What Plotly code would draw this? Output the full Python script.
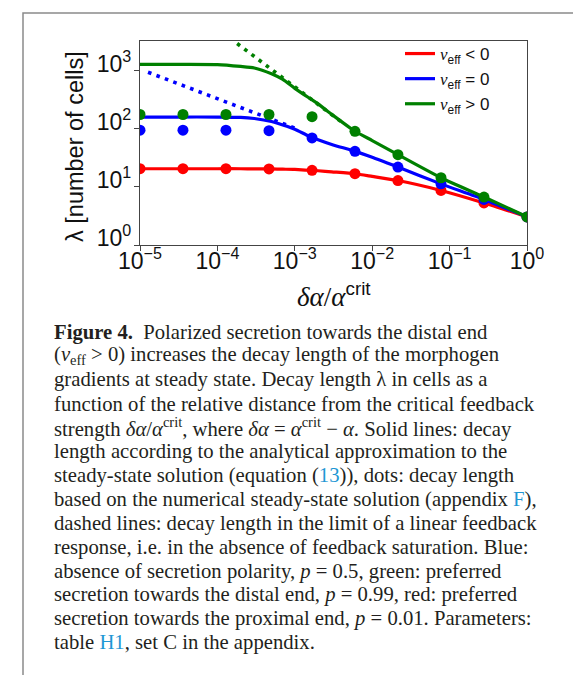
import plotly.graph_objects as go

# ---------------- data ----------------
x_dots = [1e-5, 3.59e-5, 1.29e-4, 4.64e-4, 1.67e-3, 5.99e-3, 2.15e-2, 7.74e-2, 2.78e-1, 1.0]
red_dots = [20.6, 20.6, 20.6, 20.4, 19.3, 16.9, 12.9, 8.7, 5.3, 3.05]
blue_dots = [95, 95, 95, 93, 70, 41, 22, 11.3, 6.1, 3.05]
green_dots = [177, 177, 177, 177, 162, 91, 36, 14.4, 6.7, 3.05]

x_line = [1e-5, 3e-5, 1e-4, 2e-4, 3e-4, 5e-4, 7e-4, 1e-3, 1.5e-3, 2e-3, 3e-3,
          6e-3, 1e-2, 2.15e-2, 7.74e-2, 2.78e-1, 1.0]
red_line = [20.6, 20.6, 20.6, 20.6, 20.5, 20.4, 20.2, 20.0, 19.4, 19.0, 18.2,
            16.9, 15.2, 12.9, 8.7, 5.3, 3.05]
blue_line = [160, 160, 160, 158, 151, 134, 117, 99, 76, 65, 54,
             41, 32.5, 22, 11.3, 6.1, 3.05]
green_line = [1290, 1290, 1280, 1190, 1120, 890, 710, 500, 347, 270, 178,
              91, 63, 36, 14.4, 6.7, 3.05]

x_blue_lin = [1.27e-5, 1e-4, 3e-4, 1e-3]
blue_lin = [946, 337, 194, 103]
x_green_lin = [1.8e-4, 5e-4, 1e-3, 2e-3, 4e-3]
green_lin = [2950, 1060, 530, 265, 132]

x_tickvals = [1e-5, 1e-4, 1e-3, 1e-2, 1e-1, 1]
x_ticktext = ["10<sup>−5</sup>", "10<sup>−4</sup>", "10<sup>−3</sup>",
              "10<sup>−2</sup>", "10<sup>−1</sup>", "10<sup>0</sup>"]
y_tickvals = [1, 10, 100, 1000]
y_ticktext = ["10<sup>0</sup>", "10<sup>1</sup>", "10<sup>2</sup>", "10<sup>3</sup>"]

legend_names = [
    "<span style=\"font-family:'Liberation Serif'\"><i>v</i></span><sub>eff</sub> &lt; 0",
    "<span style=\"font-family:'Liberation Serif'\"><i>v</i></span><sub>eff</sub> = 0",
    "<span style=\"font-family:'Liberation Serif'\"><i>v</i></span><sub>eff</sub> &gt; 0",
]

LINK = "#1f97d4"
caption_lines = [
    "<b>Figure 4.</b>  Polarized secretion towards the distal end",
    "(<i>v</i><sub>eff</sub> &gt; 0) increases the decay length of the morphogen",
    "gradients at steady state. Decay length λ in cells as a",
    "function of the relative distance from the critical feedback",
    "strength <i>δα</i>/<i>α</i><sup>crit</sup>, where <i>δα</i> = <i>α</i><sup>crit</sup> − <i>α</i>. Solid lines: decay",
    "length according to the analytical approximation to the",
    f"steady-state solution (equation (<span style='color:{LINK}'>13</span>)), dots: decay length",
    f"based on the numerical steady-state solution (appendix <span style='color:{LINK}'>F</span>),",
    "dashed lines: decay length in the limit of a linear feedback",
    "response, i.e. in the absence of feedback saturation. Blue:",
    "absence of secretion polarity, <i>p</i> = 0.5, green: preferred",
    "secretion towards the distal end, <i>p</i> = 0.99, red: preferred",
    "secretion towards the proximal end, <i>p</i> = 0.01. Parameters:",
    f"table <span style='color:{LINK}'>H1</span>, set C in the appendix.",
]

RED, BLUE, GREEN = "#ff0000", "#0000ff", "#008000"

# ---------------- figure ----------------
W, H = 581, 675
L, R, T, B = 132, 62, 33, 438
pw, ph = W - L - R, H - T - B


def px2paper_x(px):
    return (px - L) / pw


def px2paper_y(py):
    return (H - B - py) / ph


fig = go.Figure()

series = [
    (RED, red_line, red_dots, None, None, legend_names[0]),
    (BLUE, blue_line, blue_dots, x_blue_lin, blue_lin, legend_names[1]),
    (GREEN, green_line, green_dots, x_green_lin, green_lin, legend_names[2]),
]

for color, yl, yd, xlin, ylin, name in series:
    if xlin is not None:
        fig.add_trace(go.Scatter(x=xlin, y=ylin, mode="lines", showlegend=False,
                                 line=dict(color=color, width=3.6, dash="3.6px,5.4px"),
                                 hoverinfo="skip"))
    fig.add_trace(go.Scatter(x=x_line, y=yl, mode="lines", name=name,
                             line=dict(color=color, width=3.2, shape="spline", smoothing=0.6)))
    fig.add_trace(go.Scatter(x=x_dots, y=yd, mode="markers", showlegend=False,
                             marker=dict(color=color, size=11, line=dict(width=0))))

axis_common = dict(
    showgrid=False, zeroline=False, showline=True, mirror=True,
    linecolor="#444444", linewidth=1.3, ticks="outside", ticklen=5,
    tickwidth=1.2, tickcolor="#444444",
    tickfont=dict(family="Liberation Sans", size=23, color="#111111"),
)

fig.update_xaxes(type="log", range=[-5, 0], tickvals=x_tickvals, ticktext=x_ticktext,
                 ticklabelstandoff=-10, **axis_common)
fig.update_yaxes(type="log", range=[0, 3.514], tickvals=y_tickvals, ticktext=y_ticktext,
                 ticklabelstandoff=-2, ticklabelshift=-7, **axis_common)

annotations = []
# axis titles
annotations.append(dict(
    text="<span style=\"font-family:'Liberation Serif'\"><i>δα</i>/<i>α</i></span><sup>crit</sup>",
    xref="paper", yref="paper", x=0.5, y=px2paper_y(287),
    xanchor="center", yanchor="middle", showarrow=False,
    font=dict(family="Liberation Sans", size=27, color="#111111")))
annotations.append(dict(
    text="λ [number of cells]",
    xref="paper", yref="paper", x=px2paper_x(67), y=px2paper_y(139),
    xanchor="center", yanchor="middle", showarrow=False, textangle=-90,
    font=dict(family="Liberation Sans", size=23.5, color="#111111")))

# caption
y0 = 324.0
dy = 23.9
for i, line in enumerate(caption_lines):
    annotations.append(dict(
        text=line, xref="paper", yref="paper",
        x=px2paper_x(44), y=px2paper_y(y0 + i * dy),
        xanchor="left", yanchor="middle", showarrow=False, align="left",
        font=dict(family="Liberation Serif", size=20.7, color="#231f20")))

fig.update_layout(
    width=W, height=H,
    margin=dict(l=L, r=R, t=T, b=B, autoexpand=False),
    paper_bgcolor="white", plot_bgcolor="white",
    showlegend=True,
    legend=dict(x=px2paper_x(392), y=px2paper_y(28), xanchor="left", yanchor="top",
                bgcolor="rgba(0,0,0,0)", borderwidth=0,
                font=dict(family="Liberation Sans", size=17, color="#111111"),
                traceorder="normal"),
    annotations=annotations,
    shapes=[dict(type="rect", xref="paper", yref="paper",
                 x0=px2paper_x(15), x1=px2paper_x(578),
                 y0=px2paper_y(673), y1=px2paper_y(5),
                 line=dict(color="#8a8a8a", width=1.5), layer="below")],
)

fig.write_html("out.html")
